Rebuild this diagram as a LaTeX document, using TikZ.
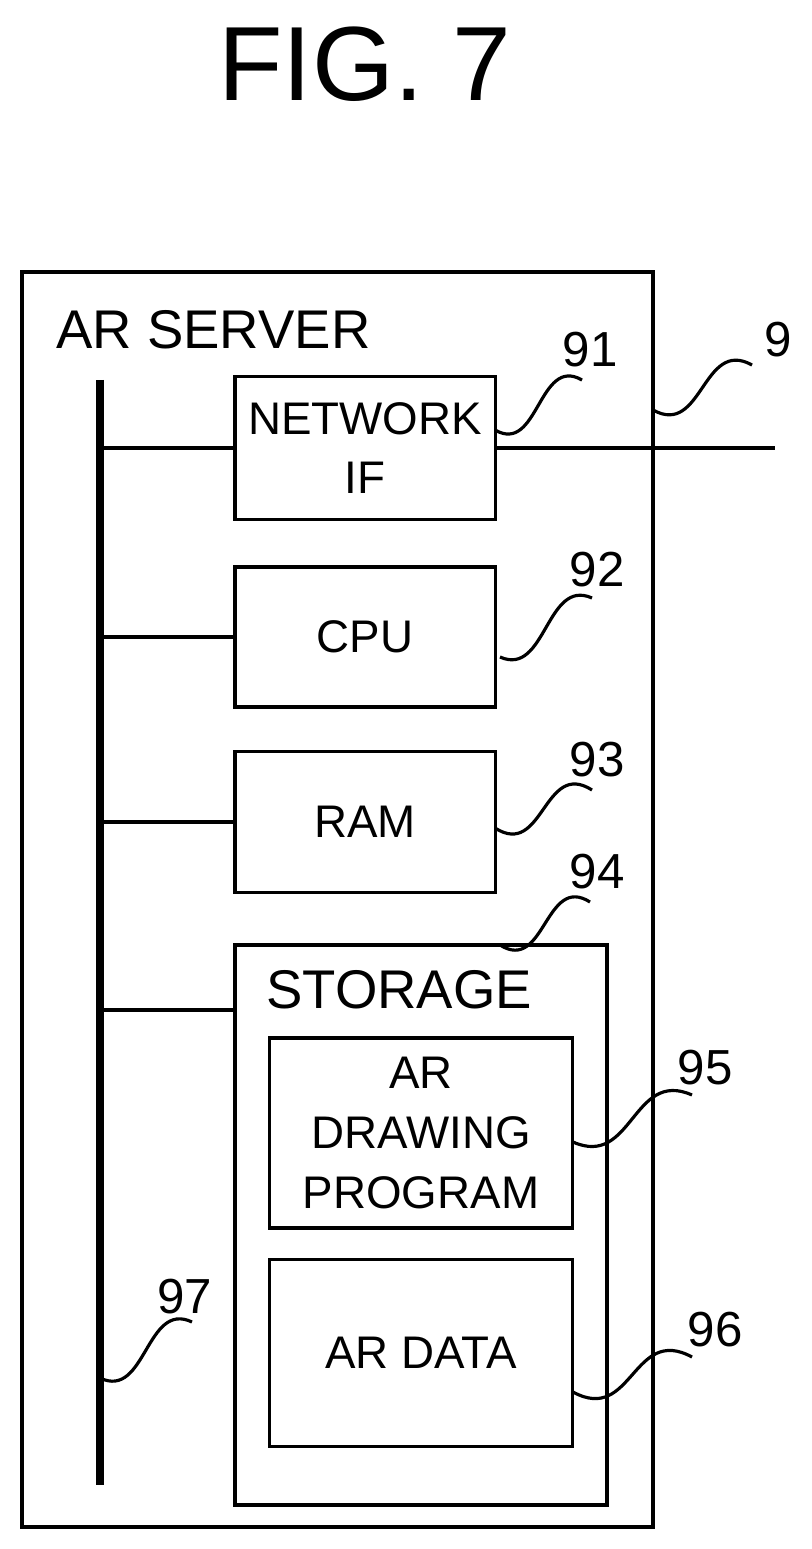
\documentclass[tikz,border=0pt]{standalone}
\usepackage{fontspec}
\setmainfont{Liberation Sans}
\usetikzlibrary{calc}
\tikzset{
  blk/.style={draw, line width=0.9pt, rectangle, align=center, inner sep=1pt, font=\fontsize{13}{17}\selectfont},
  wire/.style={line width=0.9pt},
  lbl/.style={font=\fontsize{14}{17}\selectfont},
}
\newcommand{\leader}[2]{\draw[wire] (#1) .. controls ($(#1)!0.5!(#2)+(0,50)$) and ($(#1)!0.5!(#2)-(0,50)$) .. (#2);}
\begin{document}
\begin{tikzpicture}[x=0.01cm, y=-0.01cm]
        \useasboundingbox (0,0) rectangle (811,1549);

        % Title
        \node[font=\fontsize{30}{34}\selectfont] (title) at (365,64) {FIG. 7};

        % Outer server box
        \draw[wire] (22,272) rectangle (653,1527);
        \node[lbl, font=\fontsize{15.5}{19}\selectfont, anchor=west] (server) at (44,330) {AR SERVER};

        % Bus
        \coordinate (bustop) at (100,380);
        \coordinate (busbot) at (100,1485);
        \draw[line width=2.2pt] (bustop) -- (busbot);

        % Blocks
        \node[blk, minimum width=2.6cm, minimum height=1.43cm] (netif) at (365,448) {NETWORK\\IF};
        \node[blk, minimum width=2.6cm, minimum height=1.4cm] (cpu) at (365,637) {CPU};
        \node[blk, minimum width=2.6cm, minimum height=1.41cm] (ram) at (365,822) {RAM};
        \draw[wire] (235,945) coordinate (stnw) rectangle (607,1505);
        \node[lbl, font=\fontsize{15.5}{19}\selectfont, anchor=west] (storage) at (254,990) {STORAGE};
        \node[blk, minimum width=3.03cm, minimum height=1.9cm] (prog) at (421,1133) {AR\\DRAWING\\PROGRAM};
        \node[blk, minimum width=3.03cm, minimum height=1.87cm] (ardata) at (421,1353) {AR DATA};

        % Bus connections
        \draw[wire] (netif.west -| bustop) -- (netif.west);
        \draw[wire] (cpu.west -| bustop) -- (cpu.west);
        \draw[wire] (ram.west -| bustop) -- (ram.west);
        \draw[wire] (100,1010) -- (235,1010);
        \coordinate (netend) at (775,448);
        \draw[wire] (netif.east) -- (netend);

        % Reference numerals
        \node[lbl] (n91) at (590,350) {91};
        \node[lbl] (n9) at (778,340) {9};
        \node[lbl] (n92) at (597,570) {92};
        \node[lbl] (n93) at (597,760) {93};
        \node[lbl] (n94) at (597,872) {94};
        \node[lbl] (n95) at (705,1068) {95};
        \node[lbl] (n96) at (715,1330) {96};
        \node[lbl] (n97) at (185,1297) {97};

        % Leaders
        \coordinate (a91) at (495,430); \coordinate (b91) at (582,380);
        \coordinate (a9) at (653,410); \coordinate (b9) at (752,365);
        \coordinate (a92) at (500,657); \coordinate (b92) at (592,598);
        \coordinate (a93) at (495,828); \coordinate (b93) at (592,790);
        \coordinate (a94) at (500,945); \coordinate (b94) at (590,902);
        \coordinate (a95) at (573,1142); \coordinate (b95) at (692,1095);
        \coordinate (a96) at (573,1392); \coordinate (b96) at (692,1357);
        \coordinate (a97) at (100,1378); \coordinate (b97) at (192,1322);
        \leader{a91}{b91}
        \leader{a9}{b9}
        \leader{a92}{b92}
        \leader{a93}{b93}
        \leader{a94}{b94}
        \leader{a95}{b95}
        \leader{a96}{b96}
        \leader{a97}{b97}
\end{tikzpicture}
\end{document}
